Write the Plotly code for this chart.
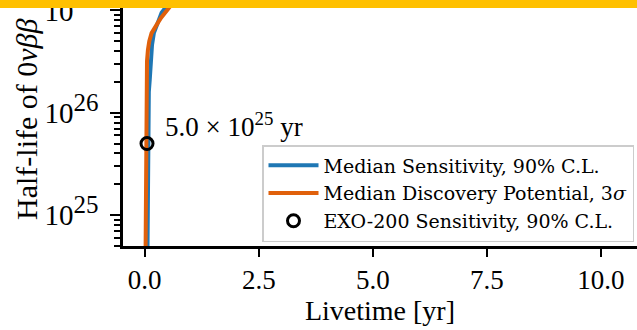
import math
import plotly.graph_objects as go

# Median sensitivity (90% C.L.) vs. livetime
sens_livetime = [0.060, 0.064, 0.075, 0.090, 0.110, 0.130, 0.160, 0.200, 0.250, 0.300, 0.370, 0.450, 0.550, 0.700]
sens_halflife = [4.0e24, 1.0e25, 1.0e26, 1.6e26, 2.1e26, 3.2e26, 4.6e26, 6.0e26, 7.0e26, 7.9e26, 9.5e26, 1.06e27, 1.26e27, 1.6e27]

# Median discovery potential (3 sigma) vs. livetime
disc_livetime = [0.018, 0.022, 0.030, 0.037, 0.050, 0.070, 0.100, 0.150, 0.220, 0.290, 0.360, 0.450, 0.550, 0.680, 0.850]
disc_halflife = [4.0e24, 1.0e25, 1.0e26, 2.1e26, 3.2e26, 4.1e26, 5.0e26, 6.0e26, 6.9e26, 7.6e26, 8.5e26, 9.5e26, 1.06e27, 1.26e27, 1.6e27]

# EXO-200 reference point
exo_livetime = [0.05]
exo_halflife = [5.0e25]

x_ticks = [0.0, 2.5, 5.0, 7.5, 10.0]
y_ticks = [1e25, 1e26, 1e27]
y_ticktext = [
    "10<sup><span style='font-size:25px'>25</span></sup>",
    "10<sup><span style='font-size:25px'>26</span></sup>",
    "10<sup><span style='font-size:25px'>27</span></sup>",
]
y_minor = [m * 10.0 ** e for e in (24, 25, 26, 27) for m in range(2, 10)]

FONT = "Liberation Serif, Times New Roman, serif"
LEGEND_FONT = "DejaVu Serif, serif"
BLUE = "#1f77b4"
ORANGE = "#e0600b"

fig = go.Figure()
fig.add_trace(go.Scatter(
    x=sens_livetime, y=sens_halflife, mode="lines",
    line=dict(color=BLUE, width=4),
    name="Median Sensitivity, 90% C.L.",
))
fig.add_trace(go.Scatter(
    x=disc_livetime, y=disc_halflife, mode="lines",
    line=dict(color=ORANGE, width=4),
    name="Median Discovery Potential, 3<i>σ</i>",
))
fig.add_trace(go.Scatter(
    x=exo_livetime, y=exo_halflife, mode="markers",
    marker=dict(size=12, color="rgba(0,0,0,0)", line=dict(color="black", width=3)),
    name="EXO-200 Sensitivity, 90% C.L.",
))

fig.update_layout(
    width=637, height=330,
    margin=dict(l=123, r=0, t=0, b=84),
    paper_bgcolor="white", plot_bgcolor="white",
    font=dict(family=FONT, size=27, color="black"),
    showlegend=True,
    legend=dict(
        x=(262 - 123) / 514, xanchor="left",
        y=1 - 145 / 246, yanchor="top",
        bgcolor="rgba(255,255,255,0.8)",
        bordercolor="#cccccc", borderwidth=1.5,
        itemwidth=50,
        font=dict(family=LEGEND_FONT, size=19, color="black"),
    ),
    xaxis=dict(
        range=[-0.476, 10.79], automargin=False,
        tickvals=x_ticks, ticktext=[f"{v:.1f}" for v in x_ticks],
        ticks="outside", ticklen=8, tickwidth=2, tickcolor="black",
        ticklabelstandoff=0,
        showline=True, linecolor="black", linewidth=2.5,
        showgrid=False, zeroline=False,
        title=dict(text="Livetime [yr]", standoff=6, font=dict(size=28)),
    ),
    yaxis=dict(
        type="log", range=[24.698, 27.102], automargin=False,
        tickvals=y_ticks, ticktext=y_ticktext,
        ticks="outside", ticklen=10, tickwidth=2, tickcolor="black",
        ticklabeloverflow="allow", ticklabelstandoff=6,
        tickfont=dict(size=29),
        minor=dict(tickvals=y_minor, ticks="outside", ticklen=6, tickwidth=1.5, tickcolor="black"),
        showline=True, linecolor="black", linewidth=2.5,
        showgrid=False, zeroline=False,
    ),
)

# value label next to the EXO-200 point (log axis: position in log10 units)
fig.add_annotation(
    x=exo_livetime[0], y=math.log10(exo_halflife[0]), xref="x", yref="y",
    text=f"{exo_halflife[0] / 1e25:.1f} × 10<sup>25</sup> yr",
    showarrow=False, xanchor="left", yanchor="middle",
    xshift=16, yshift=19, font=dict(size=27),
)

# vertical axis title
fig.add_annotation(
    xref="paper", yref="paper", x=-97 / 514, y=1 - 222 / 246,
    text="Half-life of 0<i>νββ</i>", textangle=-90,
    showarrow=False, xanchor="center", yanchor="bottom", font=dict(size=30),
)

# highlight bar across the top edge
fig.add_shape(
    type="rect", xref="paper", yref="paper",
    x0=-130 / 514, x1=1.02, y0=1 - 8 / 246, y1=1.05,
    fillcolor="#ffc000", line=dict(width=0), layer="above",
)

fig.write_html("out.html")
